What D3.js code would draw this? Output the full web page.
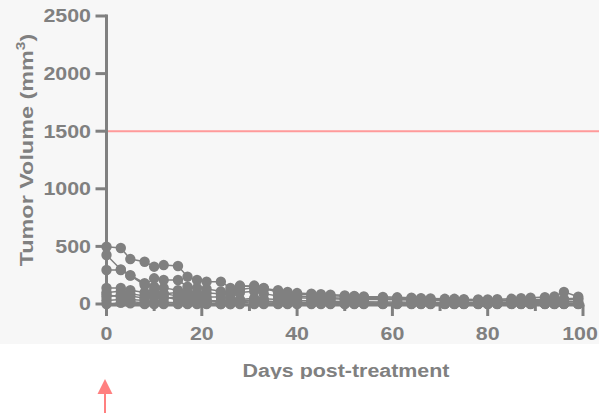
<!DOCTYPE html>
<html>
<head>
<meta charset="utf-8">
<script src="https://cdn.jsdelivr.net/npm/d3@7"></script>
<style>
  body { margin: 0; background: #fff; }
  svg { display: block; font-family: "Liberation Sans", Arial, sans-serif; font-weight: bold; }
</style>
</head>
<body>
<svg id="chart" width="599" height="413" viewBox="0 0 599 413"></svg>
<script>
// measurement days
const days = [0,3,5,8,10,12,15,17,19,21,24,26,28,31,33,36,38,40,43,45,47,50,52,54,58,61,64,66,68,71,73,75,78,80,82,85,87,89,92,94,96,99]

// tumor volume per mouse (mm3), null = no measurement
const mouseA = [497,486,390,367,324,338,330,237,208,194,194,139,125,140,135,120,105,95,90,85,80,75,70,65,62,58,55,50,48,45,45,42,40,40,42,45,50,55,60,65,105,63]
const mouseB = [295,295,246,165,223,208,208,150,140,130,110,100,150,160,130,110,95,85,80,75,72,68,65,60,55,50,48,45,40,38,35,35,30,30,32,35,38,40,40,42,45,50]
const mouseC = [425,300,250,180,150,140,120,105,100,95,90,80,160,150,140,100,80,70,60,55,55,50,48,45,45,42,40,38,36,35,35,33,32,30,30,30,32,32,30,30,35,40]
const mouseD = [139,139,120,100,80,90,100,80,70,60,60,50,100,110,90,70,60,55,50,48,45,42,40,40,38,36,35,34,32,30,30,28,28,26,25,25,24,24,22,22,20,20]
const mouseE = [100,110,90,70,60,50,60,40,30,30,25,20,40,50,45,40,35,30,28,26,24,22,20,20,18,18,16,16,15,14,14,12,12,12,10,10,10,10,10,8,8,8]
const mouseF = [60,80,70,50,100,90,70,50,40,30,20,15,30,35,25,20,18,15,15,12,12,10,10,10,8,8,8,6,6,6,5,5,5,5,4,4,4,4,4,3,3,3]
const mouseG = [30,40,20,10,20,15,10,5,5,5,0,0,10,20,10,5,5,5,5,4,4,3,3,3,2,2,2,2,2,2,1,1,1,1,1,1,1,1,1,1,1,1]
const mouseH = [0,10,5,0,0,0,0,0,0,0,0,0,0,0,0,0,0,0,0,0,0,0,0,0,0,0,0,0,0,0,0,0,0,0,0,0,0,0,0,0,0,0]
const mouseI = [80,60,40,30,120,60,40,30,25,20,15,10,20,30,20,15,12,10,8,8,6,6,5,5,4,4,3,3,3,2,2,2,2,2,2,2,2,2,2,2,2,2]
const mice = [mouseA, mouseB, mouseC, mouseD, mouseE, mouseF, mouseG, mouseH, mouseI]

const yTicks = [0,500,1000,1500,2000,2500]
const xTicks = [0,20,40,60,80,100]
const xMinor = [10,30,50,70,90]
const threshold = 1500

const svg = d3.select("#chart")
const grey = "#808080"
const stretch = 1.19   // the original lettering is wider than it is tall

// light grey panel behind the plot
svg.append("rect")
    .attr("x", 0).attr("y", 0)
    .attr("width", 599).attr("height", 344)
    .attr("fill", "#f7f7f7")

const x = d3.scaleLinear().domain([0,100]).range([106.5,583])
const y = d3.scaleLinear().domain([0,2500]).range([304,16])

// threshold line
svg.append("line")
    .attr("x1", x(0)).attr("x2", 599)
    .attr("y1", y(threshold)).attr("y2", y(threshold))
    .attr("stroke", "#ff9a9a")
    .attr("stroke-width", 2)

// y axis
const yAxis = svg.append("g")
yAxis.append("line")
    .attr("x1", x(0)).attr("x2", x(0))
    .attr("y1", y(2500) - 1.5).attr("y2", 306)
    .attr("stroke", grey).attr("stroke-width", 3)
yAxis.selectAll(".ytick")
    .data(yTicks)
    .enter()
    .append("line")
    .attr("x1", x(0) - 11).attr("x2", x(0))
    .attr("y1", d => y(d)).attr("y2", d => y(d))
    .attr("stroke", grey).attr("stroke-width", 3)
yAxis.selectAll(".ylab")
    .data(yTicks)
    .enter()
    .append("text")
    .attr("transform", d => `translate(91,${y(d)}) scale(${stretch},1)`)
    .attr("dy", "0.36em")
    .attr("text-anchor", "end")
    .attr("font-size", 18)
    .attr("fill", grey)
    .text(d => d)

// x axis
const xAxisY = 305
const xAxis = svg.append("g")
xAxis.append("line")
    .attr("x1", x(0) - 1.5).attr("x2", x(100) + 1.5)
    .attr("y1", xAxisY).attr("y2", xAxisY)
    .attr("stroke", grey).attr("stroke-width", 3)
xAxis.selectAll(".xtick")
    .data(xTicks)
    .enter()
    .append("line")
    .attr("x1", d => x(d)).attr("x2", d => x(d))
    .attr("y1", xAxisY).attr("y2", 316)
    .attr("stroke", grey).attr("stroke-width", 3)
xAxis.selectAll(".xminor")
    .data(xMinor)
    .enter()
    .append("line")
    .attr("x1", d => x(d)).attr("x2", d => x(d))
    .attr("y1", xAxisY).attr("y2", 311)
    .attr("stroke", grey).attr("stroke-width", 3)
xAxis.selectAll(".xlab")
    .data(xTicks)
    .enter()
    .append("text")
    // keep the last label inside the window
    .attr("transform", d => `translate(${Math.min(x(d), 580)},340) scale(${stretch},1)`)
    .attr("text-anchor", "middle")
    .attr("font-size", 18)
    .attr("fill", grey)
    .text(d => d)

// series
const line = d3.line()
    .defined(d => d.v != null)
    .x(d => x(d.day))
    .y(d => y(d.v))

const series = mice.map(m => days.map((day, i) => ({day: day, v: m[i]})))

svg.append("g")
    .selectAll("path")
    .data(series)
    .enter()
    .append("path")
    .attr("d", line)
    .attr("fill", "none")
    .attr("stroke", grey)
    .attr("stroke-width", 1.5)

svg.append("g")
    .selectAll("g")
    .data(series)
    .enter()
    .append("g")
    .selectAll("circle")
    .data(d => d.filter(p => p.v != null))
    .enter()
    .append("circle")
    .attr("cx", d => x(d.day))
    .attr("cy", d => y(d.v))
    .attr("r", 5.2)
    .attr("fill", grey)

// y title
const yTitle = svg.append("text")
    .attr("transform", "translate(33,150) rotate(-90) scale(1.3,1)")
    .attr("text-anchor", "middle")
    .attr("font-size", 18)
    .attr("fill", grey)
yTitle.append("tspan").text("Tumor Volume (mm")
yTitle.append("tspan").attr("font-size", 12).attr("dy", -8).text("3")
yTitle.append("tspan").attr("dy", 8).text(")")

// x title, cut at the bottom like the original
svg.append("clipPath").attr("id", "titleClip")
    .append("rect").attr("x", 0).attr("y", 340).attr("width", 599).attr("height", 39)
svg.append("g")
    .attr("clip-path", "url(#titleClip)")
    .append("text")
    .attr("transform", `translate(346,377) scale(${stretch},1)`)
    .attr("text-anchor", "middle")
    .attr("font-size", 18)
    .attr("fill", grey)
    .text("Days post-treatment")

// treatment arrow
const arrowX = x(0) - 1.5
svg.append("line")
    .attr("x1", arrowX).attr("x2", arrowX)
    .attr("y1", 392).attr("y2", 413)
    .attr("stroke", "#ff8080").attr("stroke-width", 2)
svg.append("path")
    .attr("d", `M${arrowX},379 L${arrowX - 7.5},394 L${arrowX + 7.5},394 Z`)
    .attr("fill", "#ff8080")
</script>
</body>
</html>
